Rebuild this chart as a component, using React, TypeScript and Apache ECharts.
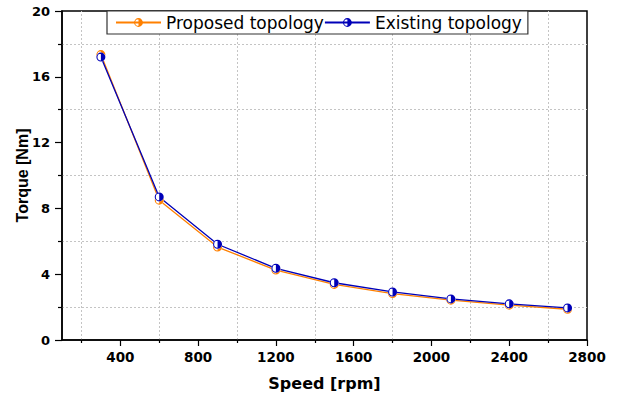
import React, { useEffect, useRef } from "react";
import * as echarts from "echarts";

const speeds = [300, 600, 900, 1200, 1500, 1800, 2100, 2400, 2700];
const proposed = [17.35, 8.5, 5.65, 4.25, 3.38, 2.82, 2.42, 2.12, 1.87];
const existing = [17.2, 8.7, 5.82, 4.36, 3.48, 2.92, 2.5, 2.2, 1.95];
const xLabelValues = [400, 800, 1200, 1600, 2000, 2400, 2800];
const xMinorValues = [200, 600, 1000, 1400, 1800, 2200, 2600];
const seriesNames = ["Proposed topology", "Existing topology"];

const ORANGE = "#FF8000";
const BLUE = "#0000B8";

// ring + right half disk (nonzero fill)
const HALF =
  "path://M10,0 A10,10 0 1,1 10,20 A10,10 0 1,1 10,0 Z " +
  "M10,2.4 A7.6,7.6 0 1,0 10,17.6 A7.6,7.6 0 1,0 10,2.4 Z " +
  "M10,0 A10,10 0 0,1 10,20 Z";

export default function App() {
  const ref = useRef<HTMLDivElement>(null);
  useEffect(() => {
    if (!ref.current) return;
    const chart = echarts.init(ref.current, null, { renderer: "svg" });
    const pairsP = speeds.map((s, i) => [s, proposed[i]]);
    const pairsE = speeds.map((s, i) => [s, existing[i]]);
    const gridLine = { color: "#c4c4c4", width: 1, type: [2, 2] as any };
    chart.setOption({
      animation: false,
      backgroundColor: "#fff",
      grid: {
        left: 62,
        right: 33,
        top: 11,
        bottom: 57,
        show: true,
        borderColor: "#000",
        borderWidth: 1.5,
        backgroundColor: "transparent",
      },
      legend: {
        data: seriesNames,
        left: 107,
        top: 11,
        orient: "horizontal",
        backgroundColor: "#fff",
        borderColor: "#333",
        borderWidth: 1.2,
        borderRadius: 0,
        padding: [3, 6, 3, 8],
        itemWidth: 45,
        itemHeight: 11,
        itemGap: 0,
        textStyle: { fontFamily: "DejaVu Sans", fontSize: 17, color: "#000" },
        z: 10,
      },
      xAxis: [
        {
          type: "value",
          position: "bottom",
          min: 100,
          max: 2800,
          name: "Speed [rpm]",
          nameLocation: "middle",
          nameGap: 35,
          nameMoveOverlap: false,
          nameTextStyle: {
            fontFamily: "DejaVu Sans",
            fontWeight: "bold",
            fontSize: 16,
            color: "#000",
          },
          axisLine: { show: true, lineStyle: { color: "#000", width: 1.5 } },
          axisTick: {
            show: true,
            inside: false,
            length: 6,
            customValues: xLabelValues,
            lineStyle: { color: "#000", width: 1.2 },
          },
          axisLabel: {
            show: true,
            customValues: xLabelValues,
            formatter: (v: number) => String(v),
            margin: 10,
            fontFamily: "DejaVu Sans",
            fontWeight: "bold",
            fontSize: 13.5,
            color: "#000",
          },
          splitLine: { show: false },
        },
        {
          type: "value",
          position: "bottom",
          min: 100,
          max: 2800,
          axisLine: { show: false },
          axisTick: {
            show: true,
            inside: false,
            length: 3,
            customValues: xMinorValues,
            lineStyle: { color: "#000", width: 1.2 },
          },
          axisLabel: { show: false },
          splitLine: { show: false },
        },
      ],
      yAxis: {
        type: "value",
        min: 0,
        max: 20,
        interval: 4,
        name: "Torque [Nm]",
        nameLocation: "middle",
        nameGap: 32,
        nameMoveOverlap: false,
        nameTextStyle: {
          fontFamily: "Liberation Sans",
          fontWeight: "bold",
          fontSize: 16,
          color: "#000",
        },
        axisLine: { show: true, lineStyle: { color: "#000", width: 1.5 } },
        axisTick: {
          show: true,
          inside: false,
          length: 7,
          lineStyle: { color: "#000", width: 1.2 },
        },
        minorTick: {
          show: true,
          splitNumber: 2,
          length: 4,
          lineStyle: { color: "#000", width: 1.2 },
        },
        minorSplitLine: { show: true, lineStyle: gridLine },
        splitLine: { show: false },
        axisLabel: {
          margin: 12,
          fontFamily: "DejaVu Sans",
          fontWeight: "bold",
          fontSize: 13,
          color: "#000",
        },
      },
      series: [
        {
          name: seriesNames[0],
          type: "line",
          data: pairsP,
          symbol: HALF,
          symbolSize: 9,
          showSymbol: false,
          z: 1,
          color: ORANGE,
          lineStyle: { color: ORANGE, width: 1.3 },
          itemStyle: { color: ORANGE },
          markLine: {
            silent: true,
            symbol: ["none", "none"],
            label: { show: false },
            lineStyle: gridLine,
            data: xMinorValues.map((v) => ({ xAxis: v })),
            z: 0,
          },
        },
        {
          name: seriesNames[1],
          type: "line",
          data: pairsE,
          symbol: HALF,
          symbolSize: 9,
          showSymbol: false,
          z: 2,
          color: BLUE,
          lineStyle: { color: BLUE, width: 1.3 },
          itemStyle: { color: BLUE },
        },
        {
          name: "_p_bg",
          type: "scatter",
          data: pairsP,
          symbol: "circle",
          symbolSize: 9,
          z: 3,
          itemStyle: { color: "#fff", opacity: 1 },
        },
        {
          name: "_p_half",
          type: "scatter",
          data: pairsP,
          symbol: HALF,
          symbolSize: 9,
          z: 4,
          itemStyle: { color: ORANGE, opacity: 1 },
        },
        {
          name: "_e_bg",
          type: "scatter",
          data: pairsE,
          symbol: "circle",
          symbolSize: 9,
          z: 5,
          itemStyle: { color: "#fff", opacity: 1 },
        },
        {
          name: "_e_half",
          type: "scatter",
          data: pairsE,
          symbol: HALF,
          symbolSize: 9,
          z: 6,
          itemStyle: { color: BLUE, opacity: 1 },
        },
      ],
    });
    return () => chart.dispose();
  }, []);
  return (
    <div
      ref={ref}
      style={{ position: "absolute", left: 0, top: 0, width: 620, height: 397 }}
    />
  );
}
